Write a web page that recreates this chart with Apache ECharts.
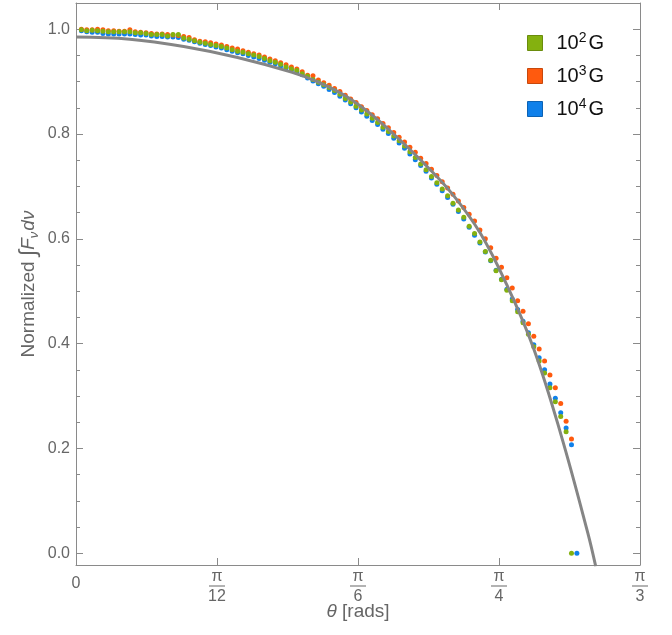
<!DOCTYPE html>
<html><head><meta charset="utf-8">
<script src="https://cdn.jsdelivr.net/npm/echarts@6/dist/echarts.min.js"></script>
<style>html,body{margin:0;padding:0;background:#fff}#c{width:672px;height:635px}</style>
</head><body><div id="c"></div>
<script>
// theta grid step (rad) of the sampled data
const thetaStep = 0.01;
// 10^2 G (green), first point at theta = 0.01
const green = [0.999,0.997,0.998,0.997,0.996,0.995,0.995,0.995,0.995,0.995,
0.993,0.993,0.992,0.990,0.990,0.990,0.987,0.990,0.990,0.983,
0.981,0.978,0.975,0.973,0.971,0.969,0.967,0.964,0.961,0.958,
0.956,0.953,0.951,0.948,0.944,0.940,0.937,0.933,0.928,0.924,
0.921,0.915,0.910,0.904,0.899,0.894,0.889,0.883,0.876,0.868,
0.861,0.853,0.846,0.838,0.830,0.822,0.813,0.805,0.796,0.787,
0.777,0.766,0.755,0.743,0.732,0.719,0.707,0.695,0.682,0.668,
0.655,0.641,0.624,0.610,0.594,0.576,0.559,0.539,0.522,0.502,
0.482,0.461,0.440,0.418,0.394,0.367,0.344,0.316,0.289,0.261,
0.232,0.000];
// 10^3 G (orange)
const orange = [1.000,0.999,0.999,1.000,0.999,0.997,0.997,0.996,0.996,0.999,
0.995,0.994,0.993,0.992,0.991,0.991,0.990,0.989,0.988,0.986,
0.984,0.980,0.977,0.976,0.974,0.972,0.970,0.967,0.964,0.962,
0.959,0.956,0.953,0.951,0.947,0.943,0.940,0.936,0.932,0.928,
0.924,0.919,0.912,0.911,0.903,0.898,0.893,0.887,0.881,0.874,
0.867,0.860,0.852,0.845,0.837,0.829,0.820,0.812,0.803,0.794,
0.785,0.775,0.765,0.754,0.744,0.733,0.721,0.709,0.697,0.685,
0.672,0.660,0.647,0.634,0.617,0.600,0.583,0.563,0.546,0.526,
0.506,0.482,0.462,0.438,0.414,0.390,0.367,0.340,0.316,0.286,
0.252,0.218];
// 10^4 G (blue)
const blue = [0.997,0.995,0.994,0.994,0.992,0.991,0.991,0.991,0.991,0.991,
0.990,0.989,0.989,0.987,0.986,0.986,0.985,0.985,0.984,0.981,
0.979,0.976,0.973,0.971,0.969,0.966,0.964,0.961,0.958,0.955,
0.953,0.950,0.947,0.944,0.941,0.937,0.934,0.930,0.926,0.922,
0.918,0.913,0.907,0.901,0.896,0.891,0.885,0.879,0.872,0.865,
0.858,0.850,0.842,0.834,0.826,0.818,0.809,0.801,0.792,0.783,
0.773,0.762,0.751,0.740,0.729,0.716,0.704,0.692,0.679,0.666,
0.652,0.638,0.622,0.607,0.592,0.575,0.558,0.540,0.523,0.504,
0.485,0.465,0.443,0.421,0.398,0.373,0.350,0.323,0.296,0.268,
0.239,0.207,0.000];
// gray reference curve
const lineTheta = [0,0.10,0.20,0.30,0.40,0.45,0.50,0.55,0.60,0.65,0.70,0.75,0.80,0.85,0.90,0.95,0.965];
const lineValue = [0.985,0.981,0.967,0.946,0.918,0.899,0.873,0.836,0.790,0.740,0.684,0.612,0.512,0.390,0.228,0.040,-0.025];
// legend
const legendBase = ['10','10','10'];
const legendExp = ['2','3','4'];
// ticks
const xTickLabels = ['0','π/12','π/6','π/4','π/3'];
const yTickValues = [0,0.2,0.4,0.6,0.8,1.0];
const yMinorTickValues = [0.05,0.1,0.15,0.25,0.3,0.35,0.45,0.5,0.55,0.65,0.7,0.75,0.85,0.9,0.95];

const PI = Math.PI;
const xTickValues = [0, PI/12, PI/6, PI/4, PI/3];
const names = legendBase.map((b,i)=>b+'^'+legendExp[i]+'G');
const colors = ['#84b10f','#ff5a0e','#0f80ea'];
const borders = ['#6a8c0c','#c8480c','#0c62b4'];
const axisColor = '#8a8a8a';
const labelColor = '#666';
const FONT = '"Liberation Sans", Arial, sans-serif';
const yMin = -0.0223, yMax = 1.05;

function pts(arr){ return arr.map((v,k)=>[(k+1)*thetaStep, v]); }

const chart = echarts.init(document.getElementById('c'));

function yAx(pos, major, showLine){
  return {
    type:'value', min:yMin, max:yMax, position:pos,
    axisLine:{show:showLine, onZero:false, lineStyle:{color:axisColor,width:1}},
    splitLine:{show:false},
    axisTick:{show:true, inside:true, length: major?7:4, customValues: major?yTickValues:yMinorTickValues, lineStyle:{color:axisColor}},
    axisLabel:{show:false}
  };
}
function xAx(pos, showLabel){
  return {
    type:'value', min:0, max:PI/3, position:pos,
    axisLine:{show:true, onZero:false, lineStyle:{color:axisColor,width:1}},
    splitLine:{show:false},
    axisTick:{show:true, inside:true, length:7, customValues:xTickValues, lineStyle:{color:axisColor}},
    axisLabel:{show:showLabel}
  };
}

const xMain = xAx('bottom', true);
xMain.axisLabel = {
  show:true, customValues:xTickValues, margin:5,
  formatter:function(v){
    const k = Math.round(v/(PI/12));
    const s = xTickLabels[k];
    if (s.indexOf('/')<0) return '{z|'+s+'}';
    const p = s.split('/');
    return '{n|'+p[0]+'}\n{bar| }\n{d|'+p[1]+'}';
  },
  rich:{
    z:{fontSize:16, color:labelColor, fontFamily:FONT, padding:[6,0,0,0]},
    n:{fontSize:16, color:labelColor, fontFamily:FONT, lineHeight:14},
    bar:{width:16, height:1, backgroundColor:labelColor, lineHeight:4, fontSize:1},
    d:{fontSize:16, color:labelColor, fontFamily:FONT, lineHeight:18}
  }
};
xMain.name = '{it|θ}{t| [rads]}';
xMain.nameLocation = 'middle';
xMain.nameGap = 37;
xMain.nameMoveOverlap = false;
xMain.nameTextStyle = {rich:{
  it:{fontStyle:'italic', fontSize:19, color:labelColor, fontFamily:FONT},
  t:{fontSize:19, color:labelColor, fontFamily:FONT}
}};

const yMain = yAx('left', true, true);
yMain.axisLabel = {show:true, customValues:yTickValues, margin:6, color:labelColor, fontSize:16, fontFamily:FONT,
  formatter:function(v){ return v.toFixed(1); }};
yMain.name = '{t|Normalized }{int|∫}{it|F}{sub|ν}{it|dν}';
yMain.nameLocation = 'middle';
yMain.nameGap = 35;
yMain.nameMoveOverlap = false;
yMain.nameRotate = 90;
yMain.nameTextStyle = {rich:{
  t:{fontSize:19, color:labelColor, fontFamily:FONT},
  int:{fontSize:23, color:labelColor, fontFamily:FONT, fontStyle:'italic'},
  it:{fontSize:19, color:labelColor, fontFamily:FONT, fontStyle:'italic'},
  sub:{fontSize:13, color:labelColor, fontFamily:FONT, fontStyle:'italic', padding:[11,1,0,0]}
}};

const option = {
  animation:false,
  backgroundColor:'#fff',
  grid:{left:76, right:32, top:3, bottom:70, containLabel:false},
  xAxis:[xMain, xAx('top', false)],
  yAxis:[yMain, yAx('left', false, false), yAx('right', true, true), yAx('right', false, false)],
  legend:{
    orient:'vertical', left:522, top:26, icon:'rect', itemWidth:15, itemHeight:15, itemGap:11,
    data: names.map((n,i)=>({name:n, itemStyle:{borderColor:borders[i], borderWidth:1, opacity:1}})),
    formatter:function(n){
      const i = names.indexOf(n);
      return '{a|'+legendBase[i]+'}{s|'+legendExp[i]+'}{a|G}';
    },
    textStyle:{padding:[0,0,0,9], rich:{
      a:{fontSize:20, color:'#111', fontFamily:FONT, lineHeight:22},
      s:{fontSize:14, color:'#111', fontFamily:FONT, padding:[0,2,10,0]}
    }}
  },
  series:[
    {type:'scatter', name:names[2], data:pts(blue), symbol:'circle', symbolSize:5, itemStyle:{color:colors[2], opacity:1}, silent:true},
    {type:'scatter', name:names[1], data:pts(orange), symbol:'circle', symbolSize:5, itemStyle:{color:colors[1], opacity:1}, silent:true},
    {type:'scatter', name:names[0], data:pts(green), symbol:'circle', symbolSize:5, itemStyle:{color:colors[0], opacity:1}, silent:true},
    {type:'line', name:'model', data:lineTheta.map((t,i)=>[t,lineValue[i]]), smooth:0.4, showSymbol:false, clip:true,
     lineStyle:{color:'#858585', width:3}, silent:true, z:3}
  ]
};
chart.setOption(option);
</script>
</body></html>
